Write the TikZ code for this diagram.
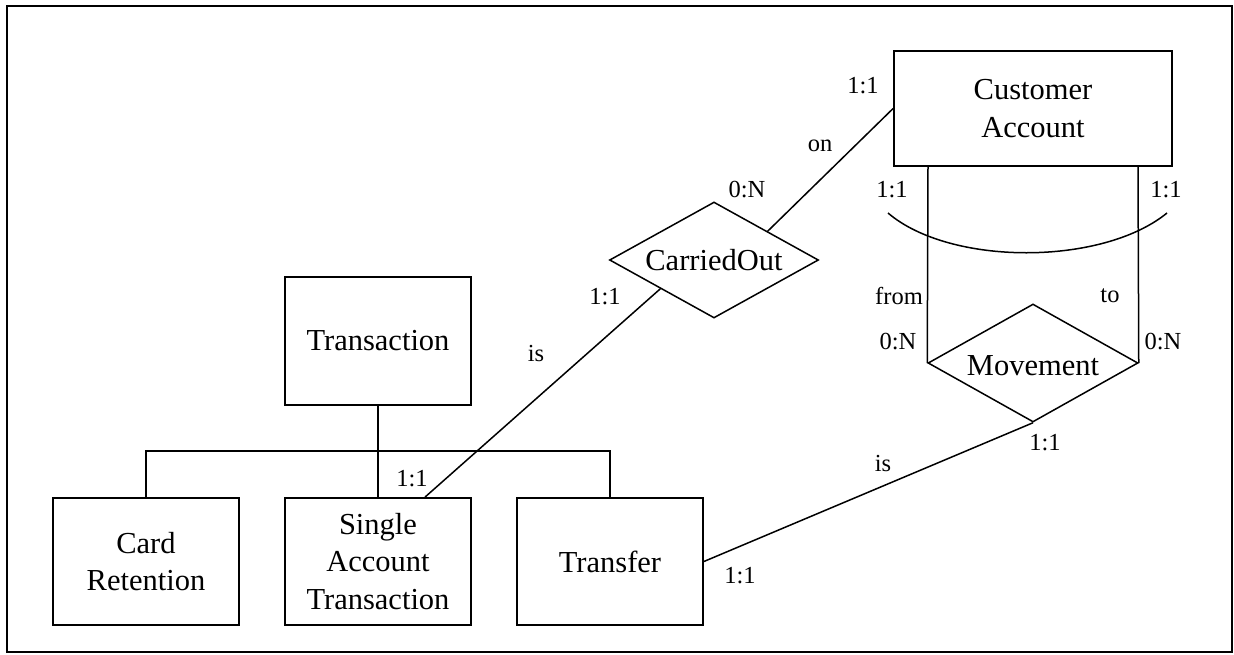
\documentclass[tikz,border=0pt]{standalone}
\usepackage{fontspec}
\setmainfont{Liberation Serif}
\usetikzlibrary{shapes.geometric,calc}
\begin{document}
\begin{tikzpicture}[x=1pt,y=-1pt,
  ent/.style={draw,line width=1.8pt,rectangle,inner sep=0pt,align=center,
    font=\fontsize{30.5}{37.5}\selectfont},
  rel/.style={draw,line width=1.5pt,diamond,inner sep=0pt},
  reltext/.style={font=\fontsize{30.5}{37.5}\selectfont,inner sep=0pt},
  lbl/.style={font=\fontsize{24.5}{28}\selectfont,inner sep=0pt},
  conn/.style={line width=1.5pt}]
\useasboundingbox (0,0) rectangle (1234,654);
\draw[line width=2.5pt] (7,6) rectangle (1232,652);
% entities
\node[ent,minimum width=278pt,minimum height=115pt] (ca) at (1033,108.5) {Customer\\Account};
\node[ent,minimum width=186pt,minimum height=128pt] (tx) at (378,341) {Transaction};
\node[ent,minimum width=186pt,minimum height=127pt] (cr) at (146,561.5) {Card\\Retention};
\node[ent,minimum width=186pt,minimum height=127pt] (sat) at (378,561.5) {Single\\Account\\Transaction};
\node[ent,minimum width=186pt,minimum height=127pt] (tr) at (610,561.5) {Transfer};
% relationships
\node[rel,minimum width=209pt,minimum height=116pt] (co) at (714,260) {};
\node[reltext] (cot) at (co) {CarriedOut};
\node[rel,minimum width=210pt,minimum height=118pt] (mv) at (1033,363) {};
\node[reltext] (mvt) at ([yshift=-3pt]mv.center) {Movement};
% generalisation
\coordinate (gl) at (146,451);
\coordinate (gr) at (610,451);
\draw[conn] (tx.south) -- (sat.north);
\draw[conn] (cr.north) -- (gl) -- (gr) -- (tr.north);
% connectors
\draw[conn] (ca.west) -- ($(co.north)!0.51!(co.east)$);
\draw[conn] ($(co.west)!0.49!(co.south)$) -- ([xshift=47pt]sat.north);
\coordinate (fl) at (928,166);
\coordinate (fr) at (1138,166);
\draw[conn] (fl) -- (mv.west);
\draw[conn] (fr) -- (mv.east);
\draw[conn] (tr.east) -- (mv.south);
\draw[conn] (888,213) .. controls (950,266) and (1102,266) .. (1167,213);
% labels
\node[lbl] (l1) at (863,86) {1:1};
\node[lbl] (l2) at (820,146) {on};
\node[lbl] (l3) at (747,190) {0:N};
\node[lbl] (l4) at (605,297) {1:1};
\node[lbl] (l5) at (536,354) {is};
\node[lbl] (l6) at (412,479) {1:1};
\node[lbl] (l7) at (892,190) {1:1};
\node[lbl] (l8) at (1166,190) {1:1};
\node[lbl] (l9) at (899,296) {from};
\node[lbl] (l10) at (1110,296) {to};
\node[lbl] (l11) at (898,342) {0:N};
\node[lbl] (l12) at (1163,342) {0:N};
\node[lbl] (l13) at (1045,443) {1:1};
\node[lbl] (l14) at (883,463) {is};
\node[lbl] (l15) at (740,576) {1:1};
\end{tikzpicture}
\end{document}
